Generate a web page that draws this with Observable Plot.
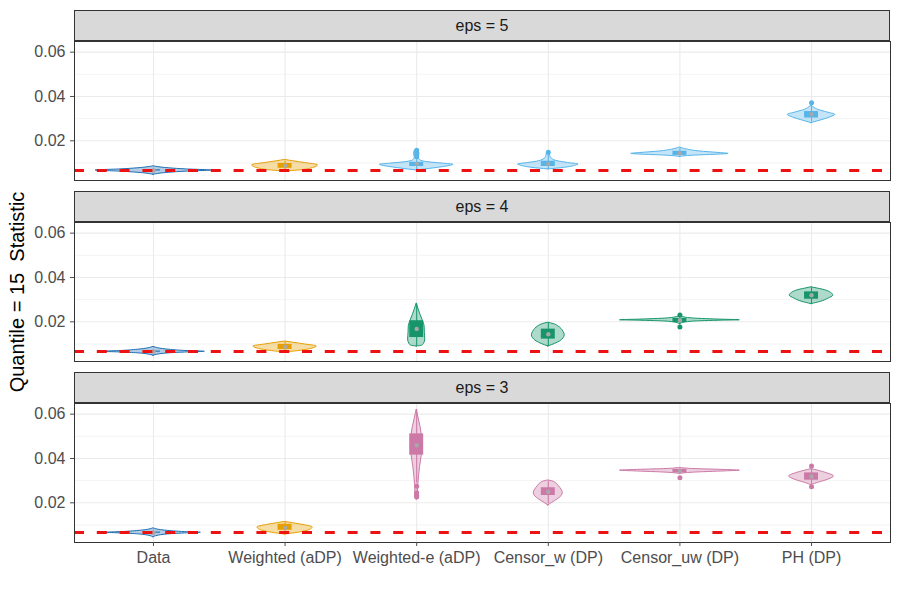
<!DOCTYPE html>
<html>
<head>
<meta charset="utf-8">
<script src="https://cdn.jsdelivr.net/npm/d3@7"></script>
<script src="https://cdn.jsdelivr.net/npm/@observablehq/plot@0.6"></script>
<style>
  html, body { margin: 0; padding: 0; background: #fff; }
  #chart { position: relative; width: 900px; height: 600px; font-family: "Liberation Sans", Arial, sans-serif; }
  .strip { position: absolute; left: 74px; width: 816px; height: 31px; background: #D9D9D9; border: 1px solid #333; box-sizing: border-box;
           display: flex; align-items: center; justify-content: center; font-size: 16px; color: #1A1A1A; }
  .panel { position: absolute; left: 0; }
  .ylab { position: absolute; left: 17px; top: 292px; transform: translate(-50%, -50%) rotate(-90deg); white-space: pre; font-size: 20px; color: #000; }
</style>
</head>
<body>
<div id="chart"></div>
<script>
// ---------- data ----------
const categories = ["Data", "Weighted (aDP)", "Weighted-e (aDP)", "Censor_w (DP)", "Censor_uw (DP)", "PH (DP)"];
const epsLabels = ["eps = 5", "eps = 4", "eps = 3"];
const yTicks = [0.02, 0.04, 0.06];
const yMinor = [0.01, 0.03, 0.05];
const refValue = 0.0066;
const yTitle = "Quantile = 15  Statistic";

// violin profiles: [value, half-width in category units]
const violinEps5 = [
  [[0.0047,0],[0.0056,0.12],[0.0061,0.25],[0.0066,0.44],[0.0071,0.25],[0.0076,0.12],[0.0085,0]],
  [[0.0062,0],[0.0066,0.1],[0.0075,0.2],[0.0090,0.25],[0.0100,0.15],[0.0108,0.06],[0.0114,0]],
  [[0.0066,0],[0.0075,0.12],[0.0088,0.26],[0.0092,0.28],[0.0097,0.2],[0.0104,0.08],[0.0111,0.03],[0.0125,0.015],[0.0140,0.02],[0.0155,0.015],[0.0161,0]],
  [[0.0071,0],[0.0078,0.12],[0.0088,0.21],[0.0093,0.23],[0.0100,0.15],[0.0108,0.07],[0.0118,0.03],[0.0130,0.015],[0.0145,0.01],[0.0149,0]],
  [[0.0127,0],[0.0133,0.1],[0.0138,0.3],[0.0141,0.37],[0.0145,0.3],[0.0152,0.15],[0.0160,0.06],[0.0170,0]],
  [[0.0280,0],[0.0290,0.06],[0.0305,0.14],[0.0317,0.18],[0.0328,0.12],[0.0340,0.05],[0.0350,0.02],[0.0360,0]]
];
const violinEps4 = [
  [[0.0047,0],[0.0058,0.12],[0.0062,0.26],[0.0065,0.39],[0.0068,0.26],[0.0074,0.12],[0.0087,0]],
  [[0.0062,0],[0.0068,0.1],[0.0078,0.2],[0.0089,0.24],[0.0098,0.15],[0.0106,0.06],[0.0111,0]],
  [[0.0089,0],[0.0092,0.04],[0.0100,0.055],[0.0120,0.065],[0.0150,0.062],[0.0180,0.06],[0.0200,0.05],[0.0230,0.03],[0.0260,0.012],[0.0283,0]],
  [[0.0089,0],[0.0100,0.05],[0.0112,0.09],[0.0125,0.115],[0.0140,0.125],[0.0155,0.115],[0.0168,0.1],[0.0180,0.075],[0.0190,0.04],[0.0196,0]],
  [[0.0190,0],[0.0200,0.08],[0.0205,0.3],[0.0207,0.455],[0.0210,0.3],[0.0216,0.08],[0.0226,0]],
  [[0.0280,0],[0.0290,0.07],[0.0305,0.13],[0.0318,0.165],[0.0330,0.15],[0.0343,0.1],[0.0352,0.03],[0.0356,0]]
];
const violinEps3 = [
  [[0.0045,0],[0.0057,0.1],[0.0062,0.24],[0.0065,0.36],[0.0068,0.24],[0.0074,0.1],[0.0085,0]],
  [[0.0057,0],[0.0065,0.1],[0.0078,0.19],[0.0089,0.21],[0.0100,0.14],[0.0108,0.06],[0.0114,0]],
  [[0.0215,0],[0.0230,0.012],[0.0250,0.01],[0.0280,0.012],[0.0320,0.018],[0.0360,0.025],[0.0400,0.035],[0.0450,0.045],[0.0500,0.04],[0.0540,0.03],[0.0580,0.015],[0.0621,0]],
  [[0.0188,0],[0.0200,0.03],[0.0215,0.07],[0.0230,0.1],[0.0245,0.11],[0.0260,0.1],[0.0275,0.08],[0.0288,0.06],[0.0297,0.03],[0.0301,0]],
  [[0.0330,0],[0.0336,0.1],[0.0342,0.35],[0.0345,0.455],[0.0348,0.35],[0.0352,0.12],[0.0358,0]],
  [[0.0280,0],[0.0290,0.05],[0.0305,0.13],[0.0319,0.17],[0.0333,0.12],[0.0345,0.05],[0.0352,0]]
];

// box summaries: [lower whisker, q1, median, q3, upper whisker]
const boxEps5 = [
  [0.0060, 0.0064, 0.0066, 0.0069, 0.0072],
  [0.0068, 0.0076, 0.0088, 0.0098, 0.0108],
  [0.0070, 0.0084, 0.0096, 0.0103, 0.0118],
  [0.0074, 0.0084, 0.0096, 0.0108, 0.0140],
  [0.0130, 0.0134, 0.0144, 0.0153, 0.0165],
  [0.0285, 0.0303, 0.0320, 0.0332, 0.0355]
];
const boxEps4 = [
  [0.0058, 0.0063, 0.0065, 0.0068, 0.0073],
  [0.0066, 0.0075, 0.0087, 0.0098, 0.0108],
  [0.0092, 0.0129, 0.0168, 0.0205, 0.0280],
  [0.0092, 0.0122, 0.0144, 0.0167, 0.0194],
  [0.0185, 0.0197, 0.0207, 0.0215, 0.0224],
  [0.0283, 0.0302, 0.0320, 0.0335, 0.0354]
];
const boxEps3 = [
  [0.0058, 0.0063, 0.0065, 0.0068, 0.0073],
  [0.0062, 0.0076, 0.0087, 0.0103, 0.0112],
  [0.0290, 0.0415, 0.0460, 0.0511, 0.0621],
  [0.0195, 0.0233, 0.0250, 0.0268, 0.0298],
  [0.0331, 0.0335, 0.0343, 0.0351, 0.0356],
  [0.0283, 0.0302, 0.0319, 0.0335, 0.0352]
];
// outliers per category
const outlierEps5 = [[], [], [0.0128, 0.0138, 0.0148, 0.0157], [0.0148], [], [0.0372]];
const outlierEps4 = [[], [], [], [], [0.0177, 0.0231], []];
const outlierEps3 = [[], [], [0.0275, 0.0245, 0.0233, 0.0226], [], [0.0313], [0.0366, 0.0272]];

// colours
const dataColor = "#1F6EB3";
const weightedColor = "#E69F00";
const epsColors = ["#56B4E9", "#16956A", "#CC79A7"];

// ---------- build ----------
const violins = [violinEps5, violinEps4, violinEps3];
const boxes = [boxEps5, boxEps4, boxEps3];
const outliers = [outlierEps5, outlierEps4, outlierEps3];
const colorFor = (p, c) => c === 0 ? dataColor : c === 1 ? weightedColor : epsColors[p];

const chart = document.getElementById("chart");
const panelTop = [41, 222, 403];
const stripTop = [10, 191, 372];
const plotH = 139;
const fmt = d3.format(".2f");

for (let p = 0; p < 3; p++) {
  const last = p === 2;
  const mt = 8, mb = last ? 45 : 8;

  const vrows = [];
  violins[p].forEach((prof, c) => prof.forEach(([y, w]) => vrows.push({cat: c, pos: c + 1, y, w, col: colorFor(p, c)})));
  const brows = boxes[p].map(([lo, q1, med, q3, hi], c) => ({pos: c + 1, lo, q1, med, q3, hi, col: colorFor(p, c)}));
  const orows = [];
  outliers[p].forEach((arr, c) => arr.forEach(y => orows.push({pos: c + 1, y, col: colorFor(p, c)})));

  const marks = [
    Plot.ruleY(yMinor, {stroke: "#EBEBEB", strokeWidth: 0.6}),
    Plot.ruleY(yTicks, {stroke: "#EBEBEB", strokeWidth: 1.1}),
    Plot.ruleX(d3.range(1, categories.length + 1), {stroke: "#EBEBEB", strokeWidth: 1.1}),
    Plot.areaX(vrows, {y: "y", x1: d => d.pos - d.w, x2: d => d.pos + d.w, z: "cat",
      fill: "col", fillOpacity: 0.35, stroke: "col", strokeWidth: 1, curve: "monotone-y"}),
    Plot.ruleX(brows, {x: "pos", y1: "lo", y2: "hi", stroke: "col", strokeWidth: 1}),
    Plot.rect(brows, {x1: d => d.pos - 0.053, x2: d => d.pos + 0.053, y1: "q1", y2: "q3", fill: "col"}),
    Plot.dot(orows, {x: "pos", y: "y", fill: "col", r: 2.5}),
    Plot.dot(brows, {x: "pos", y: "med", fill: "#A8A8A8", r: 2.2}),
    Plot.ruleY([refValue], {stroke: "#EE1111", strokeWidth: 2.8, strokeDasharray: "10,12.8"}),
    Plot.axisY({ticks: yTicks, tickFormat: fmt, tickSize: 4, tickPadding: 5, fontSize: 16, label: null, color: "#4D4D4D"}),
    Plot.frame({stroke: "#333333", strokeWidth: 1})
  ];
  if (last) {
    marks.push(Plot.axisX({ticks: d3.range(1, categories.length + 1), tickFormat: i => categories[i - 1],
      tickSize: 4, tickPadding: 5, fontSize: 16, label: null, color: "#4D4D4D"}));
  }

  const svg = Plot.plot({
    width: 900, height: plotH + mt + mb,
    marginLeft: 74, marginRight: 10, marginTop: mt, marginBottom: mb,
    x: {domain: [0.4, 6.6], axis: null},
    y: {domain: [0.0021, 0.0648], axis: null},
    style: {fontFamily: "'Liberation Sans', Arial, sans-serif", fontSize: "16px", background: "transparent", overflow: "visible"},
    marks
  });
  svg.classList.add("panel");
  svg.style.top = (panelTop[p] - mt) + "px";
  chart.appendChild(svg);

  const strip = document.createElement("div");
  strip.className = "strip";
  strip.style.top = stripTop[p] + "px";
  strip.textContent = epsLabels[p];
  chart.appendChild(strip);
}

const yl = document.createElement("div");
yl.className = "ylab";
yl.textContent = yTitle;
chart.appendChild(yl);
</script>
</body>
</html>
